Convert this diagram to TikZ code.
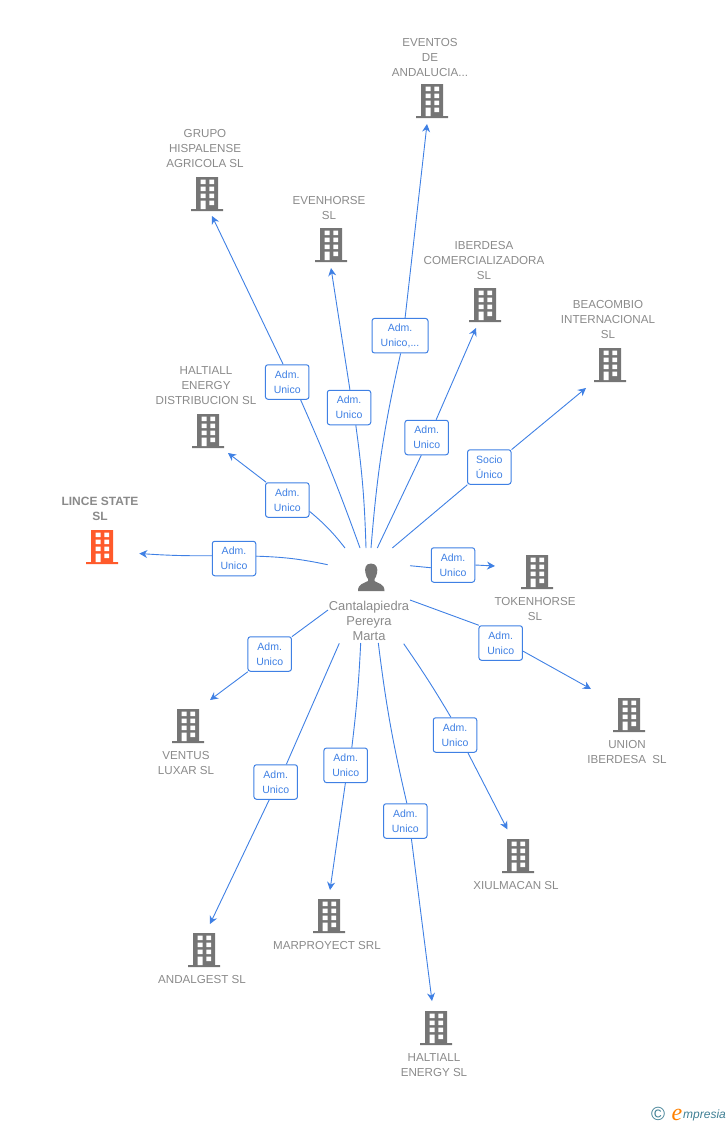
\documentclass[tikz,border=0pt]{standalone}
\usepackage{fontspec}
\setmainfont{Liberation Sans}
\newfontfamily\brandfont{Liberation Serif}
\usetikzlibrary{arrows.meta}
\definecolor{linkblue}{HTML}{3F80E4}
\definecolor{iconGray}{HTML}{757575}
\definecolor{textGray}{HTML}{8A8A8A}
\definecolor{limeOrange}{HTML}{FF5A2B}
\definecolor{logoTeal}{HTML}{3F7F94}
\tikzset{
  company/.style={minimum width=32pt, minimum height=34pt, inner sep=0pt, path picture={
    \begin{scope}[shift={(path picture bounding box.center)}]
      \fill[#1] (-11,-17) rectangle (11,15) (-16,15) rectangle (16,17);
      \foreach \wy in {-14.5,-7.5,-0.5} {
        \fill[white] (-6.3,\wy) rectangle (-1.5,\wy+4.5) (2.3,\wy) rectangle (7.1,\wy+4.5);
      }
      \fill[white] (2.3,6.5) rectangle (7.1,11) (-6.3,6.5) rectangle (-1.5,15);
    \end{scope}}},
  firmname/.style={text=textGray, align=center, inner sep=0pt, yshift=-0.7pt, font=\fontsize{11.6}{15}\selectfont},
  role/.style={draw=linkblue, fill=white, rounded corners=2.5pt, line width=1pt, text=linkblue, align=center,
    minimum width=43.5pt, minimum height=34.5pt, inner sep=0pt, font=\fontsize{10.5}{15}\selectfont},
  link/.style={draw=linkblue, line width=0.9pt},
  arrowlink/.style={link, -{Stealth[length=8pt,width=8pt]}}
}
\begin{document}
\begin{tikzpicture}[x=1pt, y=-1pt]
  \useasboundingbox (0,0) rectangle (728,1125);

  % person
  \fill[iconGray] (371,563.5) .. controls (365,563.5) and (364.5,569) .. (365.5,573) .. controls (366,576) and (367,578) .. (368,579)
    -- (368,581) .. controls (364,583.5) and (358,583.5) .. (358,591) -- (384.5,591) .. controls (384.5,583.5) and (378,583.5) .. (374.5,581)
    -- (374.5,579) .. controls (375.5,578) and (376.5,576) .. (377,573) .. controls (378,569) and (377,563.5) .. (371,563.5) -- cycle;
  \node[firmname, font=\fontsize{12.9}{15}\selectfont] (person) at (369,620) {Cantalapiedra\\Pereyra\\Marta};

  % companies
  \node[company=iconGray] (b1) at (432,101) {};
  \node[company=iconGray] (b2) at (207,194) {};
  \node[company=iconGray] (b3) at (331,245) {};
  \node[company=iconGray] (b4) at (485,305) {};
  \node[company=iconGray] (b5) at (610,365) {};
  \node[company=iconGray] (b6) at (208,431) {};
  \node[company=limeOrange] (b7) at (102,547) {};
  \node[company=iconGray] (b8) at (537,572) {};
  \node[company=iconGray] (b9) at (629,715) {};
  \node[company=iconGray] (b10) at (518,856) {};
  \node[company=iconGray] (b11) at (436,1028) {};
  \node[company=iconGray] (b12) at (329,916) {};
  \node[company=iconGray] (b13) at (204,950) {};
  \node[company=iconGray] (b14) at (188,726) {};

  \node[firmname] (t1) at (430,56.5) {EVENTOS\\DE\\ANDALUCIA...};
  \node[firmname] (t2) at (205,148) {GRUPO\\HISPALENSE\\AGRICOLA SL};
  \node[firmname] (t3) at (329,207.5) {EVENHORSE\\SL};
  \node[firmname] (t4) at (484,260) {IBERDESA\\COMERCIALIZADORA\\SL};
  \node[firmname] (t5) at (608,319) {BEACOMBIO\\INTERNACIONAL\\SL};
  \node[firmname] (t6) at (206,385) {HALTIALL\\ENERGY\\DISTRIBUCION SL};
  \node[firmname, font=\fontsize{12}{15}\selectfont\bfseries] (t7) at (100,508) {LINCE STATE\\SL};
  \node[firmname] (t8) at (535,608.5) {TOKENHORSE\\SL};
  \node[firmname] (t9) at (627,751.5) {UNION\\IBERDESA~ SL};
  \node[firmname] (t10) at (516,885) {XIULMACAN SL};
  \node[firmname] (t11) at (434,1064.5) {HALTIALL\\ENERGY SL};
  \node[firmname] (t12) at (327,945) {MARPROYECT SRL};
  \node[firmname] (t13) at (202,979) {ANDALGEST SL};
  \node[firmname] (t14) at (186,762.5) {VENTUS\\LUXAR SL};

  % roles
  \node[role, minimum width=56pt] (r1) at (400,335.7) {Adm.\\Unico,...};
  \node[role] (r2) at (287.2,382) {Adm.\\Unico};
  \node[role] (r3) at (349,407.5) {Adm.\\Unico};
  \node[role] (r4) at (426.7,437.5) {Adm.\\Unico};
  \node[role] (r5) at (489.3,467) {Socio\\Único};
  \node[role] (r6) at (287.3,500) {Adm.\\Unico};
  \node[role] (r7) at (234,558.5) {Adm.\\Unico};
  \node[role] (r8) at (453,565) {Adm.\\Unico};
  \node[role] (r9) at (500.7,643) {Adm.\\Unico};
  \node[role] (r10) at (455,735) {Adm.\\Unico};
  \node[role] (r11) at (405.3,821) {Adm.\\Unico};
  \node[role] (r12) at (345.7,765.3) {Adm.\\Unico};
  \node[role] (r13) at (275.7,782) {Adm.\\Unico};
  \node[role] (r14) at (269.7,654) {Adm.\\Unico};

  % free ends
  \coordinate (s1) at (371,548);
  \coordinate (s2) at (360,548);
  \coordinate (s3) at (366,548);
  \coordinate (s4) at (377.3,548);
  \coordinate (s5) at (392.3,548);
  \coordinate (s6) at (345,548);
  \coordinate (s7) at (327.7,564.7);
  \coordinate (s8) at (410,565.7);
  \coordinate (s9) at (410,600);
  \coordinate (s10) at (403.7,643.7);
  \coordinate (s11) at (378.3,643);
  \coordinate (s12) at (360.7,643);
  \coordinate (s13) at (339.3,643.3);
  \coordinate (s14) at (328,610);
  \coordinate (e1) at (427,124);
  \coordinate (e2) at (212,216);
  \coordinate (e3) at (331,268);
  \coordinate (e4) at (476,328);
  \coordinate (e5) at (586,388);
  \coordinate (e6) at (228,453);
  \coordinate (e7) at (139.3,553.5);
  \coordinate (e8) at (495,566);
  \coordinate (e9) at (591,689);
  \coordinate (e10) at (507.3,829.3);
  \coordinate (e11) at (432,1001);
  \coordinate (e12) at (330,890);
  \coordinate (e13) at (210,924);
  \coordinate (e14) at (210,700);

  % connectors
  \draw[link] (s1) to[bend left=4] (r1.272);
  \draw[arrowlink] (r1.74) -- (e1);
  \draw[link] (s2) to[bend right=2] (r2.-53);
  \draw[arrowlink] (r2.103) -- (e2);
  \draw[link] (s3) to[bend right=3] (r3.-69);
  \draw[arrowlink] (r3.87) -- (e3);
  \draw[link] (s4) -- (r4.-107);
  \draw[arrowlink] (r4.62) -- (e4);
  \draw[link] (s5) -- (r5.-141);
  \draw[arrowlink] (r5.38) -- (e5);
  \draw[link] (s6) to[bend right=6] (r6.-27);
  \draw[arrowlink] (r6.140) -- (e6);
  \draw[link] (s7) to[bend right=5] (r7.6);
  \draw[arrowlink] (r7.173) to[bend left=2] (e7);
  \draw[link] (s8) -- (r8.-173);
  \draw[arrowlink] (r8.0) -- (e8);
  \draw[link] (s9) -- (r9.141);
  \draw[arrowlink] (r9.-20) -- (e9);
  \draw[link] (s10) to[bend left=2] (r10.103);
  \draw[arrowlink] (r10.-54) -- (e10);
  \draw[link] (s11) to[bend right=3] (r11.85);
  \draw[arrowlink] (r11.-71) -- (e11);
  \draw[link] (s12) to[bend left=2] (r12.71);
  \draw[arrowlink] (r12.-91) -- (e12);
  \draw[link] (s13) -- (r13.59);
  \draw[arrowlink] (r13.-110) -- (e13);
  \draw[link] (s14) -- (r14.38);
  \draw[arrowlink] (r14.-141) -- (e14);

  % logo
  \node[text=logoTeal, inner sep=0pt, font=\fontsize{19}{19}\selectfont] (copy) at (658,1114) {©};
  \node[text=orange, inner sep=0pt, font=\fontsize{24}{24}\brandfont\itshape] (mark) at (677,1115) {e};
  \node[text=logoTeal, inner sep=0pt, anchor=west, font=\fontsize{12}{12}\selectfont\itshape] (brand) at (683,1115) {mpresia};
\end{tikzpicture}
\end{document}
